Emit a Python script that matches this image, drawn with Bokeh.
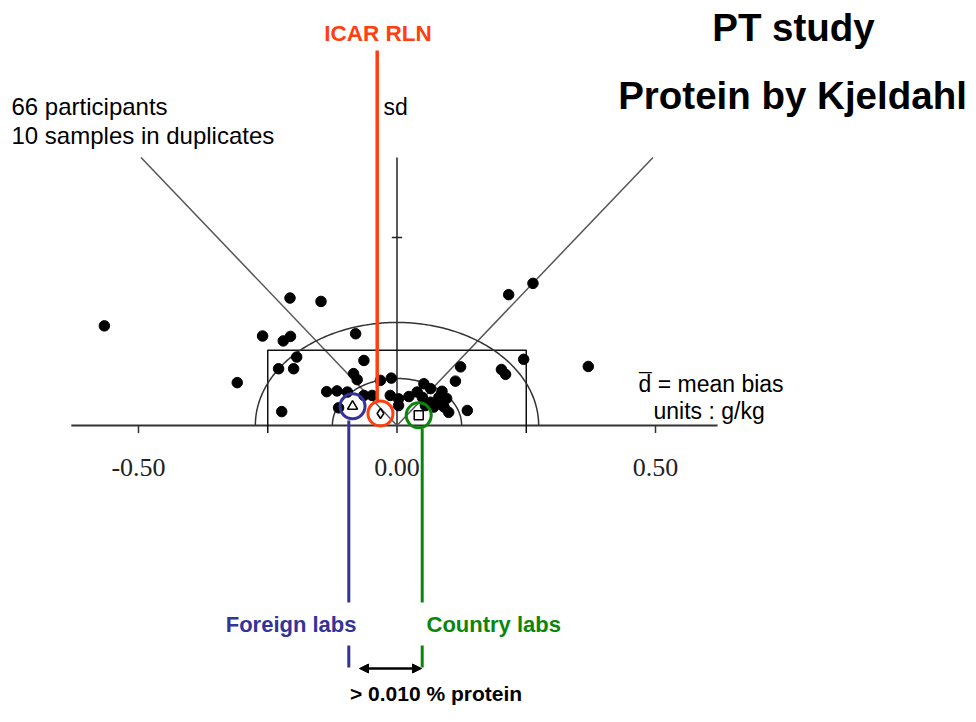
import numpy as np
from bokeh.plotting import figure
from bokeh.models import Range1d, Arrow, NormalHead
from bokeh.core.properties import value
from bokeh.embed import file_html
from bokeh.resources import INLINE

# ---------------- data ----------------
bias = [-0.566, -0.207, -0.147, -0.260, -0.220, -0.206, -0.080, -0.194, -0.229, -0.200,
        -0.064, -0.309, -0.084, -0.077, -0.136, -0.116, -0.223, -0.032, -0.011, -0.048,
        0.263, 0.216, 0.245, 0.370, 0.123, 0.202, 0.210, 0.113, 0.136, 0.100,
        0.023, 0.003, 0.052, 0.065, 0.087, 0.081, 0.084, 0.065, 0.049, 0.091,
        0.071, 0.055, -0.113, -0.096, -0.064, -0.013, 0.003, 0.039, 0.096]
sd = [0.265, 0.339, 0.330, 0.238, 0.225, 0.237, 0.244, 0.182, 0.151, 0.151,
      0.173, 0.114, 0.138, 0.122, 0.090, 0.092, 0.037, 0.120, 0.126, 0.080,
      0.378, 0.348, 0.176, 0.157, 0.156, 0.149, 0.136, 0.118, 0.040, 0.035,
      0.077, 0.071, 0.111, 0.098, 0.091, 0.075, 0.058, 0.062, 0.075, 0.049,
      0.049, 0.053, 0.047, 0.089, 0.080, 0.080, 0.053, 0.089, 0.072]

group_names = ["Foreign labs", "ICAR RLN", "Country labs"]
group_bias = [-0.086, -0.032, 0.042]
group_sd = [0.051, 0.032, 0.027]
group_markers = ["triangle", "diamond", "square"]
group_colors = ["#333399", "#FF3F0F", "#0A860A"]

x_ticks = [-0.5, 0.0, 0.5]
x_tick_labels = ["-0.50", "0.00", "0.50"]
sd_ticks = [0.5]

x_axis_min, x_axis_max = -0.63, 0.62
sd_axis_max = 0.713
rect_half_width, rect_height = 0.25, 0.20
circle_radii = [0.125, 0.274]
limit_slope = 1.44

# ---------------- layout helpers (picture pixel -> data) ----------------
X0, SX, Y0, SY = 396.5, 517.0, 425.0, 376.0
def X(px):
    return (px - X0) / SX
def Y(py):
    return (Y0 - py) / SY

W, H = 968, 706
p = figure(width=W, height=H, output_backend="svg", toolbar_location=None,
           x_range=Range1d(X(0), X(W)), y_range=Range1d(Y(H), Y(0)),
           x_axis_type=None, y_axis_type=None, min_border=0,
           outline_line_color=None, background_fill_color="white")

tick_len = 0.02
# x axis
p.line([x_axis_min, x_axis_max], [0, 0], line_color="#333333", line_width=2)
side_ticks = [t for t in x_ticks if t != 0]
p.segment(x0=side_ticks, y0=[0] * len(side_ticks), x1=side_ticks,
          y1=[-tick_len] * len(side_ticks), line_color="#333333", line_width=1.5)
p.text(x=x_ticks, y=[Y(467)] * 3, text=x_tick_labels, text_font=value("Liberation Serif"),
       text_font_size="26px", text_align="center", text_baseline="middle", text_color="#222222")
# sd axis
p.line([0, 0], [-tick_len, sd_axis_max], line_color="#222222", line_width=1.5)
p.segment(x0=[-0.01] * len(sd_ticks), y0=sd_ticks, x1=[0.01] * len(sd_ticks), y1=sd_ticks,
          line_color="#222222", line_width=1.5)

# limit lines
for s in (-1, 1):
    p.line([0, s * sd_axis_max / limit_slope], [0, sd_axis_max], line_color="#555555", line_width=1.5)
# rectangle
p.line([-rect_half_width, -rect_half_width, rect_half_width, rect_half_width],
       [-tick_len, rect_height, rect_height, -tick_len], line_color="#111111", line_width=1.5)
# semicircles
t = np.linspace(0, np.pi, 181)
for r in circle_radii:
    p.line(r * np.cos(t), r * np.sin(t), line_color="#333333", line_width=1.5)

# points
p.scatter(bias, sd, size=10.5, marker="circle", fill_color="black", line_color="black")

# group means
for gb, gs, m in zip(group_bias, group_sd, group_markers):
    p.scatter([gb], [gs], marker=m, size=10 if m != "square" else 9, fill_color="white",
              fill_alpha=0.0, line_color="black", line_width=1.5)
p.scatter(group_bias, group_sd, marker="circle", size=25, fill_alpha=0.0,
          line_color=group_colors, line_width=3)

# leader lines
p.line([X(376.7), X(376.7)], [Y(50), Y(400)], line_color=group_colors[1], line_width=3.5)
p.segment(x0=[X(348.3)] * 2, y0=[Y(420), Y(645)], x1=[X(348.3)] * 2, y1=[Y(602), Y(667)],
          line_color=group_colors[0], line_width=3)
p.segment(x0=[X(421.7)] * 2, y0=[Y(428), Y(645)], x1=[X(421.7)] * 2, y1=[Y(602), Y(667)],
          line_color=group_colors[2], line_width=3)
p.add_layout(Arrow(start=NormalHead(size=9, fill_color="black", line_color="black"),
                   end=NormalHead(size=9, fill_color="black", line_color="black"),
                   x_start=X(359), y_start=Y(668), x_end=X(421), y_end=Y(668),
                   line_color="black", line_width=2.5))

SANS = value("Liberation Sans")
def txt(px, py, s, size, align="left", bold=False, color="black"):
    p.text(x=[X(px)], y=[Y(py)], text=[s], text_font=SANS, text_font_size=size,
           text_font_style="bold" if bold else "normal", text_align=align,
           text_baseline="middle", text_color=color)

txt(793, 27, "PT study", "38.5px", "center", True)
txt(792, 95, "Protein by Kjeldahl", "38.5px", "center", True)
txt(377.5, 33, "ICAR RLN", "22.5px", "center", True, group_colors[1])
txt(11, 106, "66 participants", "24px")
txt(11, 135, "10 samples in duplicates", "24px")
txt(383, 106, "sd", "23px")
txt(638, 383, "d = mean bias", "23px")
txt(638.5, 381, "\u00af", "23px")
txt(653, 410, "units : g/kg", "23px")
txt(356, 624, "Foreign labs", "22px", "right", True, group_colors[0])
txt(426, 624, "Country labs", "22px", "left", True, group_colors[2])
txt(435.5, 693, "> 0.010 % protein", "21px", "center", True)

open("out.html", "w").write(file_html(p, INLINE))
